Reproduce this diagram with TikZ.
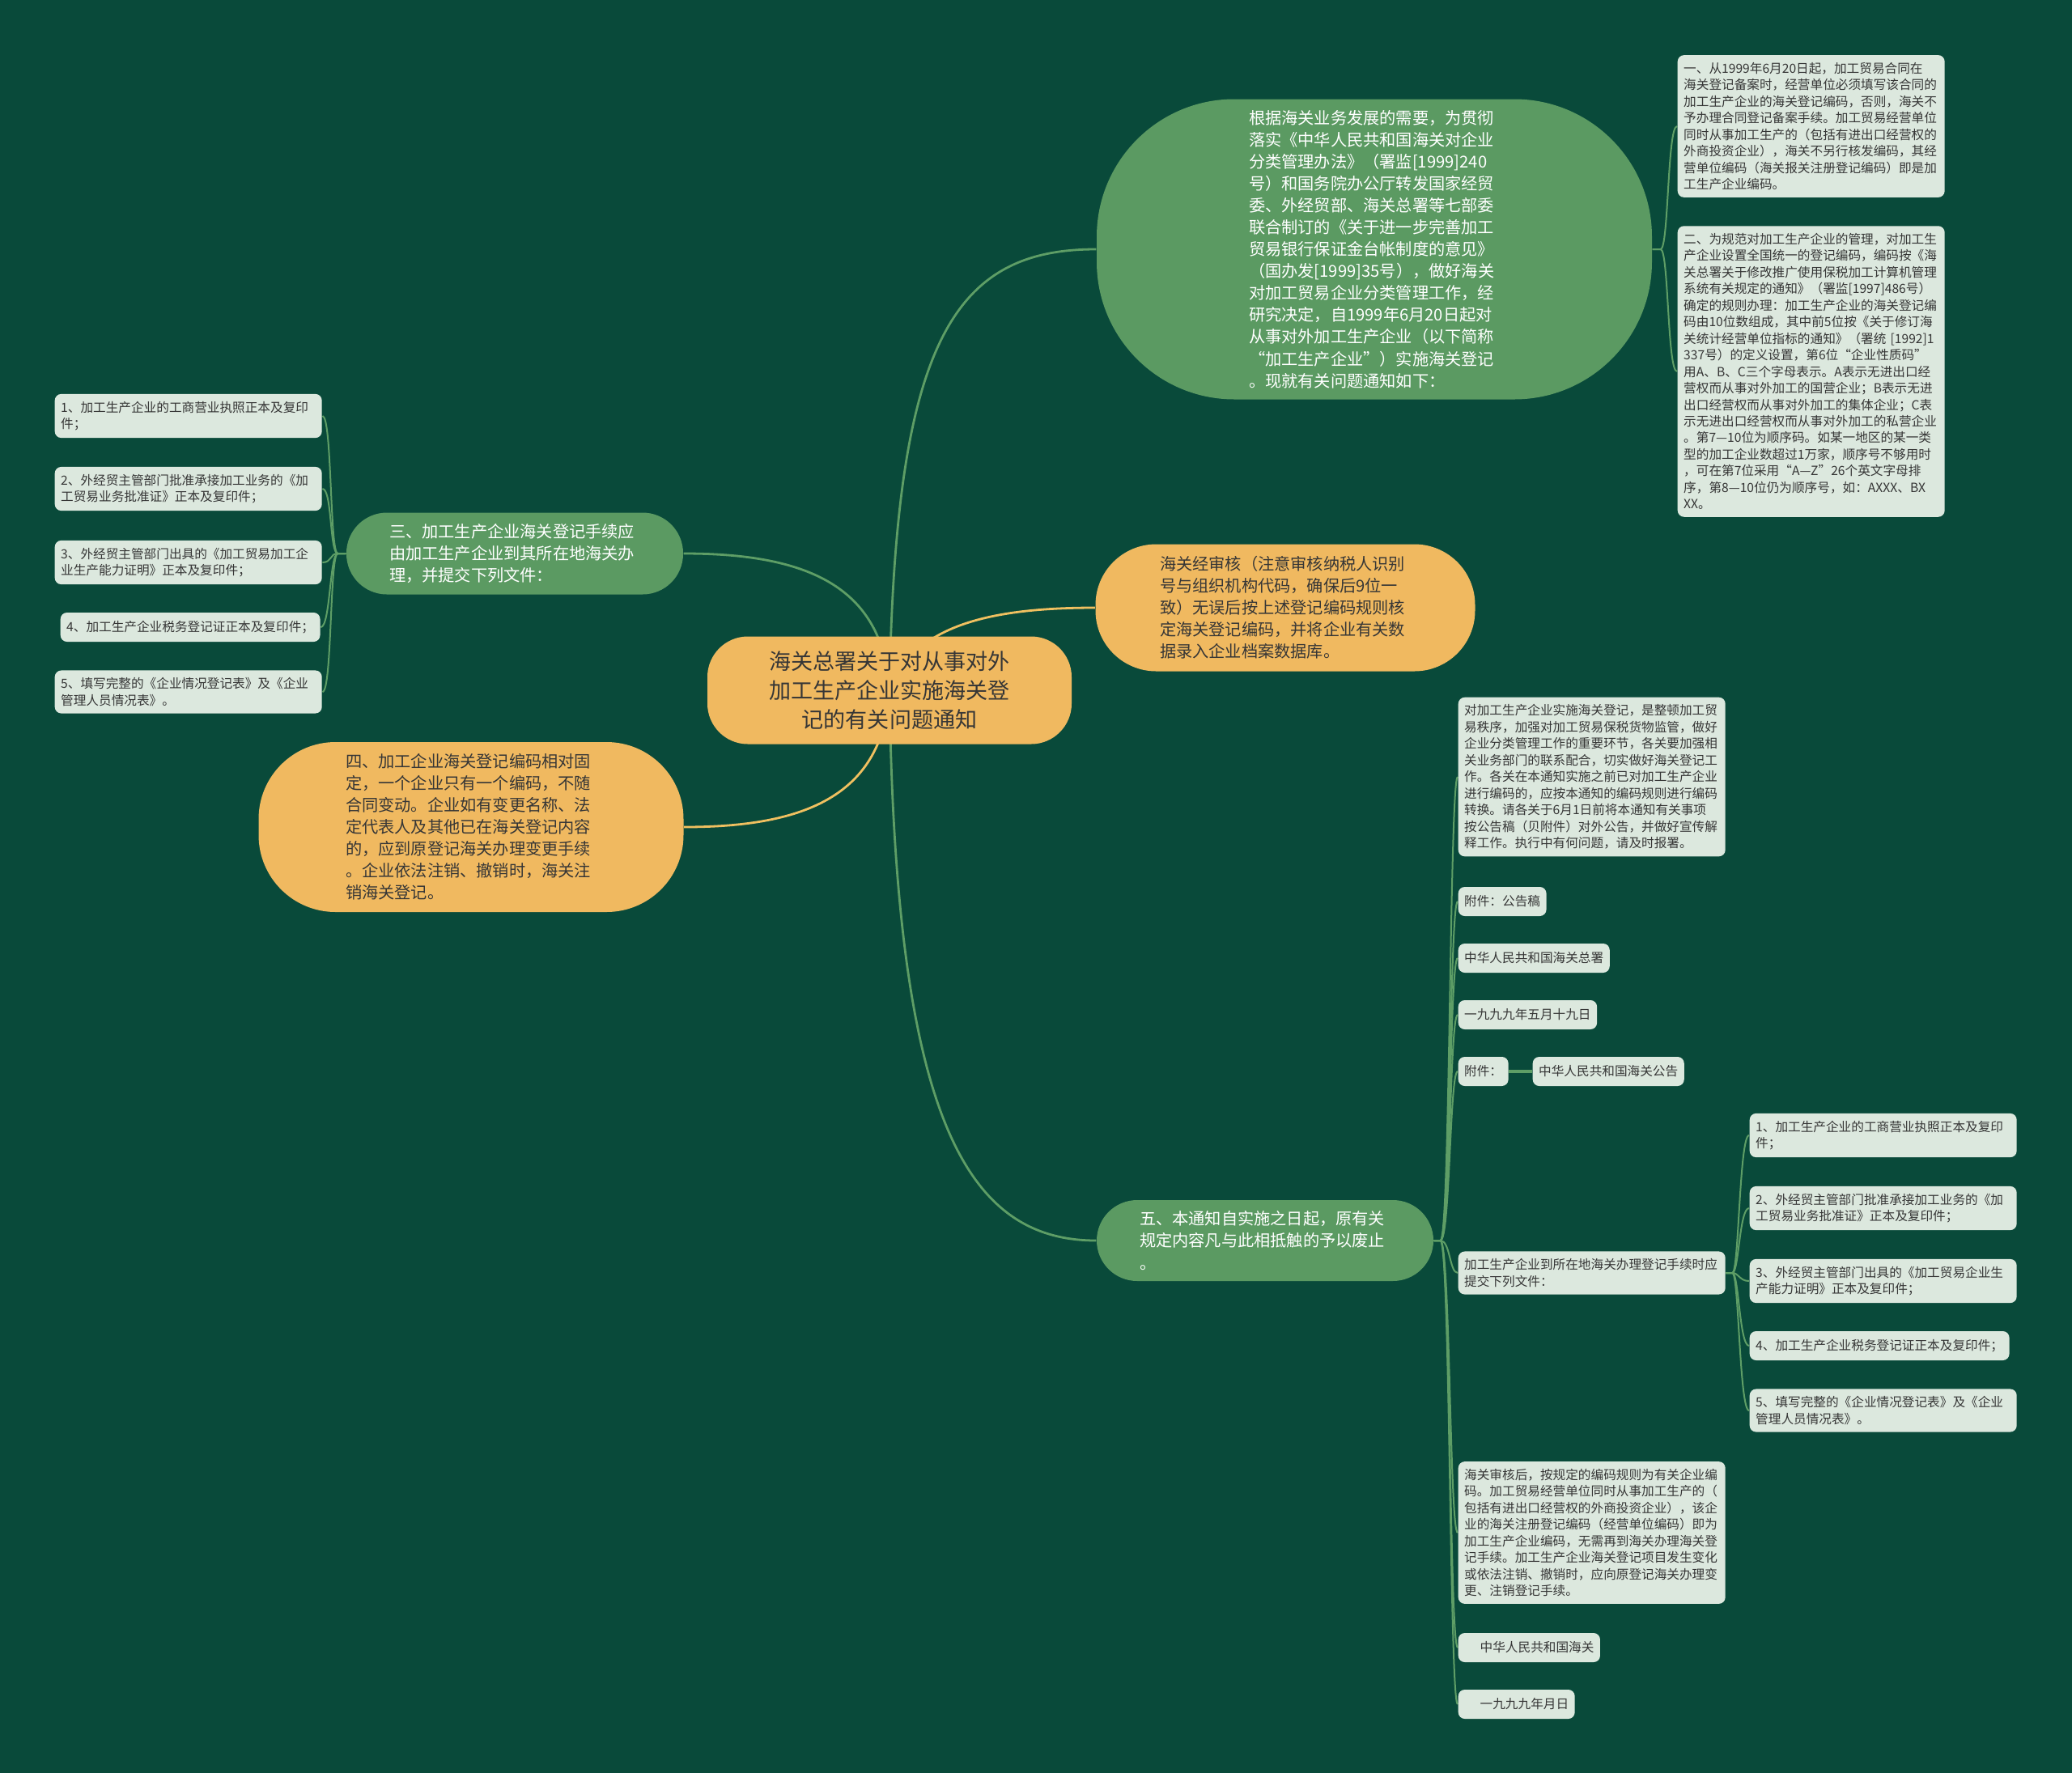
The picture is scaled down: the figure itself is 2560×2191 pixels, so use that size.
\documentclass[tikz,border=0pt]{standalone}
\usepackage{fontspec}
\newfontfamily\cjk{Noto Sans CJK SC}
\definecolor{bgdark}{HTML}{094A3A}
\definecolor{nodegreen}{HTML}{5B9A62}
\definecolor{nodegold}{HTML}{F0B960}
\definecolor{leaffill}{HTML}{DCE8DE}
\definecolor{linegreen}{HTML}{5E9E66}
\definecolor{linegold}{HTML}{F0C060}
\definecolor{inktext}{HTML}{363636}
\newcommand{\leaffont}{\cjk\fontsize{4.45pt}{5.82pt}\selectfont}
\newcommand{\midfont}{\cjk\fontsize{5.75pt}{7.7pt}\selectfont}
\newcommand{\rootfont}{\cjk\fontsize{7.7pt}{10.2pt}\selectfont}
\pgfdeclarelayer{bg}
\pgfdeclarelayer{lines}
\pgfsetlayers{bg,lines,main}

\begin{document}
\begin{tikzpicture}[x=0.1mm, y=-0.1mm,
    leaf/.style={fill=leaffill, rounded corners=0.8mm, inner xsep=0.75mm, inner ysep=0.9mm,
      minimum height=3.6mm, font=\leaffont, text=inktext, align=left, anchor=west},
    topic/.style={inner sep=0pt, font=\midfont, align=left, text width=31mm},
    greentopic/.style={topic, fill=nodegreen, text=white},
    goldtopic/.style={topic, fill=nodegold, text=inktext},
    mainline/.style={draw=linegreen, line width=0.28mm},
    subline/.style={draw=linegreen, line width=0.2mm}]

  \begin{pgfonlayer}{bg}
    \fill[bgdark] (0,0) rectangle (2560,2191);
  \end{pgfonlayer}

  % centre and first level
  \node[goldtopic, font=\rootfont, align=center, text width=42mm, minimum width=45mm,
    minimum height=13.3mm, rounded corners=5mm] (root) at (1099,853)
    {海关总署关于对从事对外\\加工生产企业实施海关登\\记的有关问题通知};

  \node[greentopic, minimum width=68.6mm, minimum height=37.1mm, rounded corners=17mm] (intro) at (1698,308)
    {根据海关业务发展的需要，为贯彻\\落实《中华人民共和国海关对企业\\分类管理办法》（署监[1999]240\\号）和国务院办公厅转发国家经贸\\委、外经贸部、海关总署等七部委\\联合制订的《关于进一步完善加工\\贸易银行保证金台帐制度的意见》\\（国办发[1999]35号），做好海关\\对加工贸易企业分类管理工作，经\\研究决定，自1999年6月20日起对\\从事对外加工生产企业（以下简称\\“加工生产企业”）实施海关登记\\。现就有关问题通知如下：};

  \node[goldtopic, minimum width=46.9mm, minimum height=15.7mm, rounded corners=7.5mm] (audit) at (1588,751)
    {海关经审核（注意审核纳税人识别\\号与组织机构代码，确保后9位一\\致）无误后按上述登记编码规则核\\定海关登记编码，并将企业有关数\\据录入企业档案数据库。};

  \node[greentopic, minimum width=41.6mm, minimum height=10.1mm, rounded corners=5mm] (filing) at (636,684)
    {三、加工生产企业海关登记手续应\\由加工生产企业到其所在地海关办\\理，并提交下列文件：};

  \node[goldtopic, minimum width=52.5mm, minimum height=21mm, rounded corners=9.5mm] (codefix) at (582,1022)
    {四、加工企业海关登记编码相对固\\定，一个企业只有一个编码，不随\\合同变动。企业如有变更名称、法\\定代表人及其他已在海关登记内容\\的，应到原登记海关办理变更手续\\。企业依法注销、撤销时，海关注\\销海关登记。};

  \node[greentopic, minimum width=41.6mm, minimum height=10mm, rounded corners=5mm] (effect) at (1563,1533)
    {五、本通知自实施之日起，原有关\\规定内容凡与此相抵触的予以废止\\。};

  % top right leaves
  \node[leaf, text width=31.5mm] (rule1) at (2072,156)
    {一、从1999年6月20日起，加工贸易合同在\\海关登记备案时，经营单位必须填写该合同的\\加工生产企业的海关登记编码，否则，海关不\\予办理合同登记备案手续。加工贸易经营单位\\同时从事加工生产的（包括有进出口经营权的\\外商投资企业），海关不另行核发编码，其经\\营单位编码（海关报关注册登记编码）即是加\\工生产企业编码。};
  \node[leaf, text width=31.5mm] (rule2) at (2072,459)
    {二、为规范对加工生产企业的管理，对加工生\\产企业设置全国统一的登记编码，编码按《海\\关总署关于修改推广使用保税加工计算机管理\\系统有关规定的通知》（署监[1997]486号）\\确定的规则办理：加工生产企业的海关登记编\\码由10位数组成，其中前5位按《关于修订海\\关统计经营单位指标的通知》（署统 [1992]1\\337号）的定义设置，第6位“企业性质码”\\用A、B、C三个字母表示。A表示无进出口经\\营权而从事对外加工的国营企业；B表示无进\\出口经营权而从事对外加工的集体企业；C表\\示无进出口经营权而从事对外加工的私营企业\\。第7—10位为顺序码。如某一地区的某一类\\型的加工企业数超过1万家，顺序号不够用时\\，可在第7位采用“A—Z”26个英文字母排\\序，第8—10位仍为顺序号，如：AXXX、BX\\XX。};

  % left leaves
  \node[leaf, text width=31.5mm] (doc1) at (67,514) {1、加工生产企业的工商营业执照正本及复印\\件；};
  \node[leaf, text width=31.5mm] (doc2) at (67,604) {2、外经贸主管部门批准承接加工业务的《加\\工贸易业务批准证》正本及复印件；};
  \node[leaf, text width=31.5mm] (doc3) at (67,695) {3、外经贸主管部门出具的《加工贸易加工企\\业生产能力证明》正本及复印件；};
  \node[leaf] (doc4) at (74,775) {4、加工生产企业税务登记证正本及复印件；};
  \node[leaf, text width=31.5mm] (doc5) at (67,855) {5、填写完整的《企业情况登记表》及《企业\\管理人员情况表》。};

  % bottom right leaves
  \node[leaf, text width=31.5mm] (duty) at (1801,960)
    {对加工生产企业实施海关登记，是整顿加工贸\\易秩序，加强对加工贸易保税货物监管，做好\\企业分类管理工作的重要环节，各关要加强相\\关业务部门的联系配合，切实做好海关登记工\\作。各关在本通知实施之前已对加工生产企业\\进行编码的，应按本通知的编码规则进行编码\\转换。请各关于6月1日前将本通知有关事项\\按公告稿（贝附件）对外公告，并做好宣传解\\释工作。执行中有何问题，请及时报署。};
  \node[leaf] (annex) at (1801,1114) {附件：公告稿};
  \node[leaf] (office) at (1801,1184) {中华人民共和国海关总署};
  \node[leaf] (date) at (1801,1254) {一九九九年五月十九日};
  \node[leaf] (attach) at (1801,1324) {附件：};
  \node[leaf] (notice) at (1893,1324) {中华人民共和国海关公告};
  \node[leaf, text width=31.5mm] (submit) at (1801,1573) {加工生产企业到所在地海关办理登记手续时应\\提交下列文件：};
  \node[leaf, text width=31.5mm] (sub1) at (2161,1403) {1、加工生产企业的工商营业执照正本及复印\\件；};
  \node[leaf, text width=31.5mm] (sub2) at (2161,1493) {2、外经贸主管部门批准承接加工业务的《加\\工贸易业务批准证》正本及复印件；};
  \node[leaf, text width=31.5mm] (sub3) at (2161,1583) {3、外经贸主管部门出具的《加工贸易企业生\\产能力证明》正本及复印件；};
  \node[leaf] (sub4) at (2161,1663) {4、加工生产企业税务登记证正本及复印件；};
  \node[leaf, text width=31.5mm] (sub5) at (2161,1743) {5、填写完整的《企业情况登记表》及《企业\\管理人员情况表》。};
  \node[leaf, text width=31.5mm] (review) at (1801,1894)
    {海关审核后，按规定的编码规则为有关企业编\\码。加工贸易经营单位同时从事加工生产的（\\包括有进出口经营权的外商投资企业），该企\\业的海关注册登记编码（经营单位编码）即为\\加工生产企业编码，无需再到海关办理海关登\\记手续。加工生产企业海关登记项目发生变化\\或依法注销、撤销时，应向原登记海关办理变\\更、注销登记手续。};
  \node[leaf] (customs) at (1801,2036) {\hspace*{1.95mm}中华人民共和国海关};
  \node[leaf] (blankdate) at (1801,2106) {\hspace*{1.95mm}一九九九年月日};

  % connectors
  \begin{pgfonlayer}{lines}
    \draw[mainline] (root.center) .. controls +(7,-433) and +(-175,0) .. (intro.west);
    \draw[mainline, draw=linegold] (root.center) .. controls +(30,-80) and +(-130,0) .. (audit.west);
    \draw[mainline] (root.center) .. controls +(-8,-130) and +(150,0) .. (filing.east);
    \draw[mainline, draw=linegold] (root.center) .. controls +(-8,130) and +(150,0) .. (codefix.east);
    \draw[mainline] (root.center) .. controls +(7,530) and +(-160,0) .. (effect.west);
    \foreach \b in {rule1,rule2}
      \draw[subline] (intro.east) -- ++(10,0) .. controls +(10,0) and +(-12,0) .. (\b.west);
    \foreach \b in {doc1,doc2,doc3,doc4,doc5}
      \draw[subline] (filing.west) -- ++(-10,0) .. controls +(-10,0) and +(12,0) .. (\b.east);
    \foreach \b in {duty,annex,office,date,attach,submit,review,customs,blankdate}
      \draw[subline] (effect.east) -- ++(8,0) .. controls +(12,0) and +(-10,0) .. (\b.west);
    \foreach \b in {sub1,sub2,sub3,sub4,sub5}
      \draw[subline] (submit.east) -- ++(8,0) .. controls +(8,0) and +(-12,0) .. (\b.west);
    \draw[subline, line width=0.35mm] (attach) -- (notice);
  \end{pgfonlayer}
\end{tikzpicture}
\end{document}
